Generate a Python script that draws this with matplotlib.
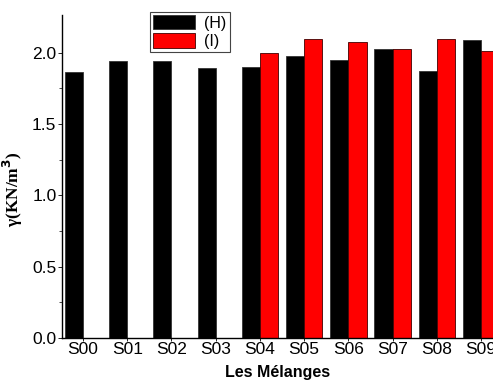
import matplotlib
matplotlib.use("Agg")
import matplotlib.pyplot as plt
import numpy as np

categories = ["S00", "S01", "S02", "S03", "S04", "S05", "S06", "S07", "S08", "S09"]
series_h = [1.867, 1.94, 1.94, 1.895, 1.90, 1.98, 1.95, 2.03, 1.875, 2.09]
series_i = [0, 0, 0, 0, 2.00, 2.10, 2.075, 2.025, 2.095, 2.01]
y_ticks = [0.0, 0.5, 1.0, 1.5, 2.0]
y_tick_labels = ["0.0", "0.5", "1.0", "1.5", "2.0"]

W, H = 493, 385
fig = plt.figure(figsize=(W / 100, H / 100), dpi=100)
ax = fig.add_axes([62 / W, 1 - 338 / H, 1 - 62 / W, (338 - 15) / H])

x = np.arange(len(categories))
width = 0.41
ax.bar(x - width / 2, series_h, width, color="black", edgecolor="#333333",
       linewidth=0.6, label="(H)")
i_idx = [k for k, v in enumerate(series_i) if v > 0]
ax.bar(x[i_idx] + width / 2, [series_i[k] for k in i_idx], width, color="#ff0000",
       edgecolor="#400000", linewidth=0.6, label="(I)")

ax.set_xlim(-0.475, 9.27)
ax.set_ylim(0, 2.265)
ax.set_xticks(x)
ax.set_xticklabels(categories, fontfamily="Liberation Sans", fontsize=12.5)
ax.set_yticks(y_ticks)
ax.set_yticklabels(y_tick_labels, fontfamily="Liberation Sans", fontsize=12.5)
ax.set_yticks([0.25, 0.75, 1.25, 1.75], minor=True)
ax.tick_params(axis="both", which="major", direction="out", length=3, width=0.6, pad=1)
ax.tick_params(axis="y", which="minor", direction="out", length=2, width=0.5)
ax.tick_params(axis="x", which="major", length=2)

for side in ("top", "right"):
    ax.spines[side].set_visible(False)
for side in ("left", "bottom"):
    ax.spines[side].set_linewidth(1.0)

ax.set_xlabel("Les Mélanges", fontfamily="Liberation Sans", fontweight="bold",
              fontsize=11.5)
ax.xaxis.set_label_coords(0.5, -0.085)
ax.set_ylabel(r"γ(KN/m$^\mathbf{3}$)", fontfamily="Liberation Serif",
              fontweight="bold", fontsize=12.5)
ax.yaxis.set_label_coords(-0.085, 0.46)

leg = ax.legend(loc="upper left", bbox_to_anchor=((150 - 62) / (W - 62), (338 - 12) / 323),
                prop={"family": "Liberation Sans", "size": 11.5}, frameon=True,
                fancybox=False, edgecolor="#444444", framealpha=1,
                handlelength=2.6, handleheight=1.0, borderpad=0.2,
                labelspacing=0.15, handletextpad=0.6, borderaxespad=0)
leg.get_frame().set_linewidth(0.8)

fig.savefig("out.png", dpi=100)
